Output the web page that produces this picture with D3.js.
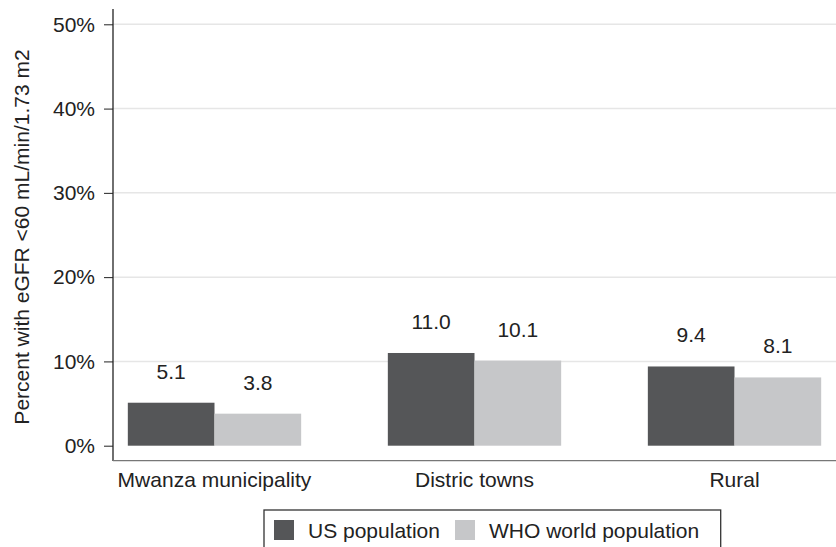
<!DOCTYPE html>
<html>
<head>
<meta charset="utf-8">
<script src="https://cdn.jsdelivr.net/npm/d3@7"></script>
<style>
  body { margin: 0; background: #fff; }
  svg { display: block; font-family: "Liberation Sans", Arial, sans-serif; }
</style>
</head>
<body>
<svg id="chart"></svg>
<script>
const categories = ['Mwanza municipality', 'Distric towns', 'Rural'];
const seriesNames = ['US population', 'WHO world population'];
const usValues = [5.1, 11.0, 9.4];
const whoValues = [3.8, 10.1, 8.1];
const yTicks = [0, 10, 20, 30, 40, 50];
const colors = ['#555658', '#c6c7c9'];

const W = 836, H = 547, FS = 21;
const svg = d3.select('#chart').attr('width', W).attr('height', H);

// plot area
const left = 113, right = 836, y0 = 445.7, y50 = 24.3;
const y = d3.scaleLinear().domain([0, 50]).range([y0, y50]);
const x = d3.scaleBand().domain(categories).range([left, right])
            .paddingInner(1/3).paddingOuter(0.057);
const xs = d3.scaleBand().domain(seriesNames).range([0, x.bandwidth()]);

// gridlines
svg.append('g').selectAll('line').data(yTicks.filter(d => d > 0)).enter().append('line')
  .attr('x1', left).attr('x2', right)
  .attr('y1', d => y(d)).attr('y2', d => y(d))
  .attr('stroke', '#e6e6e6').attr('stroke-width', 1.5);

// bars
const rows = categories.map((c, i) => ({cat: c, vals: [usValues[i], whoValues[i]]}));
const grp = svg.append('g').selectAll('g').data(rows).enter().append('g')
  .attr('transform', d => 'translate(' + x(d.cat) + ',0)');
grp.selectAll('rect').data(d => d.vals.map((v, j) => ({s: seriesNames[j], v: v, j: j}))).enter().append('rect')
  .attr('x', d => xs(d.s)).attr('width', xs.bandwidth())
  .attr('y', d => y(d.v)).attr('height', d => y0 - y(d.v))
  .attr('fill', d => colors[d.j]);
grp.selectAll('text').data(d => d.vals.map((v, j) => ({s: seriesNames[j], v: v}))).enter().append('text')
  .attr('x', d => xs(d.s) + xs.bandwidth() / 2)
  .attr('y', d => y(d.v) - 24)
  .attr('text-anchor', 'middle').attr('font-size', FS).attr('fill', '#222')
  .text(d => d.v.toFixed(1));

// y axis
const axisY = d3.axisLeft(y).tickValues(yTicks).tickSize(9).tickPadding(9).tickFormat(d => d + '%');
const gy = svg.append('g').attr('transform', 'translate(' + left + ',0)').call(axisY);
gy.select('.domain').remove();
gy.selectAll('line').attr('stroke', '#222');
gy.selectAll('text').attr('font-size', FS).attr('fill', '#222').attr('font-family', '"Liberation Sans", Arial, sans-serif');
svg.append('line').attr('x1', left).attr('x2', left).attr('y1', 9).attr('y2', 461)
  .attr('stroke', '#222').attr('stroke-width', 1.3);

// x axis
svg.append('line').attr('x1', left).attr('x2', right).attr('y1', 460.7).attr('y2', 460.7)
  .attr('stroke', '#777').attr('stroke-width', 1.3);
svg.append('g').selectAll('text').data(categories).enter().append('text')
  .attr('x', d => x(d) + x.bandwidth() / 2).attr('y', 487)
  .attr('text-anchor', 'middle').attr('font-size', FS).attr('fill', '#222')
  .text(d => d);

// y title
svg.append('text').attr('transform', 'translate(29,237) rotate(-90)')
  .attr('text-anchor', 'middle').attr('font-size', FS).attr('fill', '#222')
  .text('Percent with eGFR <60 mL/min/1.73 m2');

// legend
const legend = svg.append('g');
legend.append('rect').attr('x', 264).attr('y', 510).attr('width', 456.7).attr('height', 50)
  .attr('fill', 'none').attr('stroke', '#333').attr('stroke-width', 1.3);
const legX = [274, 455];
seriesNames.forEach((s, i) => {
  legend.append('rect').attr('x', legX[i]).attr('y', 520).attr('width', 20).attr('height', 20)
    .attr('fill', colors[i]);
  legend.append('text').attr('x', legX[i] + 34).attr('y', 538)
    .attr('font-size', FS).attr('fill', '#222').text(s);
});
</script>
</body>
</html>
